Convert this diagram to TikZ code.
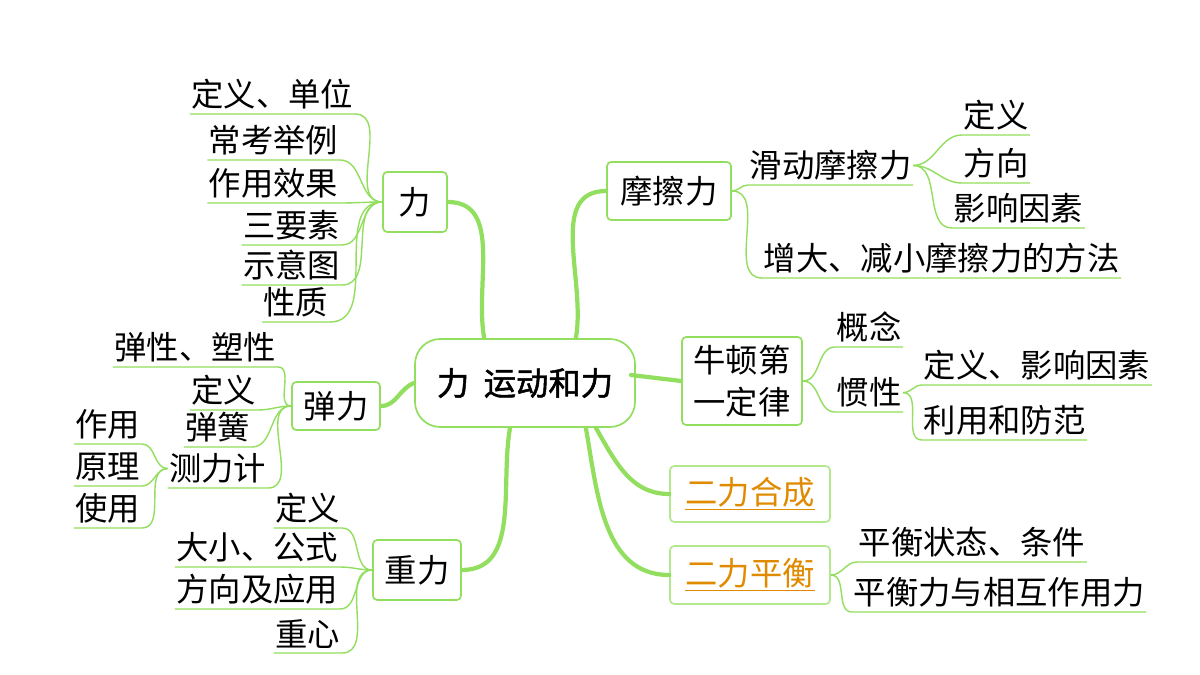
\documentclass[tikz,border=0pt]{standalone}
\usepackage{fontspec}
\setmainfont{Noto Sans CJK SC}
\newfontfamily\cjkbold[FakeBold=1.5]{Noto Sans CJK SC}
\definecolor{mapgreen}{HTML}{92DE5E}
\definecolor{linkorange}{HTML}{E08A00}
\tikzset{
  box/.style={draw=mapgreen, line width=1.2pt, rounded corners=3pt, inner sep=4pt, font=\fontsize{23}{28}\selectfont, align=center},
  leaf/.style={inner xsep=1pt, inner ysep=3pt, font=\fontsize{23}{26}\selectfont},
  twig/.style={draw=mapgreen, line width=1pt},
  trunk/.style={draw=mapgreen, line width=3pt, line cap=round},
}
\newcommand{\leafL}[5]{% name, x (right end), y (underline), text, parent
  \node[leaf, anchor=south east] (#1) at (#2,#3) {#4};
  \draw[twig] (#1.south west) -- (#1.south east) to[out=0,in=180] (#5.west);}
\newcommand{\leafR}[5]{% name, x (left end), y (underline), text, parent
  \node[leaf, anchor=south west] (#1) at (#2,#3) {#4};
  \draw[twig] (#5.east) to[out=0,in=180] (#1.south west) -- (#1.south east);}
\begin{document}
\begin{tikzpicture}[x=0.025cm, y=-0.025cm]
  \useasboundingbox (0,0) rectangle (1200,675);

  % centre and main branches
  \node[box, rounded corners=18pt, minimum width=5.5cm, minimum height=2.2cm, font=\cjkbold\fontsize{23}{28}\selectfont] (root) at (525,383) {力\ \ 运动和力};
  \node[box, minimum width=1.6cm, minimum height=1.5cm] (li) at (415,202) {力};
  \node[box, minimum width=2.2cm, minimum height=1.2cm] (tanli) at (336,406) {弹力};
  \node[box, minimum width=2.2cm, minimum height=1.5cm] (zhongli) at (417,570) {重力};
  \node[box, minimum width=3.1cm, minimum height=1.45cm] (mocali) at (669,191) {摩擦力};
  \node[box, minimum width=3cm, minimum height=2.2cm, font=\fontsize{23}{30}\selectfont] (niudun) at (742,381) {牛顿第\\一定律};
  \node[box, minimum width=4cm, minimum height=1.4cm, text=linkorange, draw=mapgreen!70] (hecheng) at (750,494) {\underline{二力合成}};
  \node[box, minimum width=4cm, minimum height=1.45cm, text=linkorange, draw=mapgreen!70] (pingheng) at (750,575) {\underline{二力平衡}};

  \draw[trunk] (root.north west) ++(70,0) to[out=100,in=0] (li.east);
  \draw[trunk] (root.north east) ++(-60,0) to[out=80,in=180] (mocali.west);
  \draw[trunk] (root.west) to[out=200,in=0] (tanli.east);
  \draw[trunk] (root.south) ++(-15,0) to[out=260,in=0] (zhongli.east);
  \draw[trunk] (root.east) ++(-5,-8) -- (niudun.west);
  \draw[trunk] (root.south east) ++(-40,0) to[out=-60,in=180] (hecheng.west);
  \draw[trunk] (root.south east) ++(-50,0) to[out=-80,in=180] (pingheng.west);

  % leaves of 力
  \leafL{dingyi1}{355}{114}{定义、单位}{li}
  \leafL{changkao}{340}{160}{常考举例}{li}
  \leafL{xiaoguo}{340}{203}{作用效果}{li}
  \leafL{sanyaosu}{342}{245}{三要素}{li}
  \leafL{shiyitu}{342}{285}{示意图}{li}
  \leafL{xingzhi}{330}{322}{性质}{li}

  % leaves of 弹力
  \leafL{tanxing}{278}{367}{弹性、塑性}{tanli}
  \leafL{dingyi2}{258}{410}{定义}{tanli}
  \leafL{tanhuang}{252}{447}{弹簧}{tanli}
  \leafL{celiji}{268}{488}{测力计}{tanli}
  \leafL{zuoyong}{142}{444}{作用}{celiji}
  \leafL{yuanli}{142}{486}{原理}{celiji}
  \leafL{shiyong}{142}{528}{使用}{celiji}

  % leaves of 重力
  \leafL{dingyi3}{342}{528}{定义}{zhongli}
  \leafL{daxiao}{340}{567}{大小、公式}{zhongli}
  \leafL{fangxiang1}{340}{609}{方向及应用}{zhongli}
  \leafL{zhongxin}{342}{653}{重心}{zhongli}

  % leaves of 摩擦力
  \leafR{huadong}{748}{185}{滑动摩擦力}{mocali}
  \leafR{fangfa}{762}{278}{增大、减小摩擦力的方法}{mocali}
  \leafR{dingyi4}{962}{135}{定义}{huadong}
  \leafR{fangxiang2}{962}{183}{方向}{huadong}
  \leafR{yinsu}{952}{228}{影响因素}{huadong}

  % leaves of 牛顿第一定律
  \leafR{gainian}{835}{347}{概念}{niudun}
  \leafR{guanxing}{835}{412}{惯性}{niudun}
  \leafR{dingyi5}{922}{385}{定义、影响因素}{guanxing}
  \leafR{liyong}{922}{440}{利用和防范}{guanxing}

  % leaves of 二力平衡
  \leafR{zhuangtai}{857}{562}{平衡状态、条件}{pingheng}
  \leafR{xianghu}{852}{612}{平衡力与相互作用力}{pingheng}
\end{tikzpicture}
\end{document}
